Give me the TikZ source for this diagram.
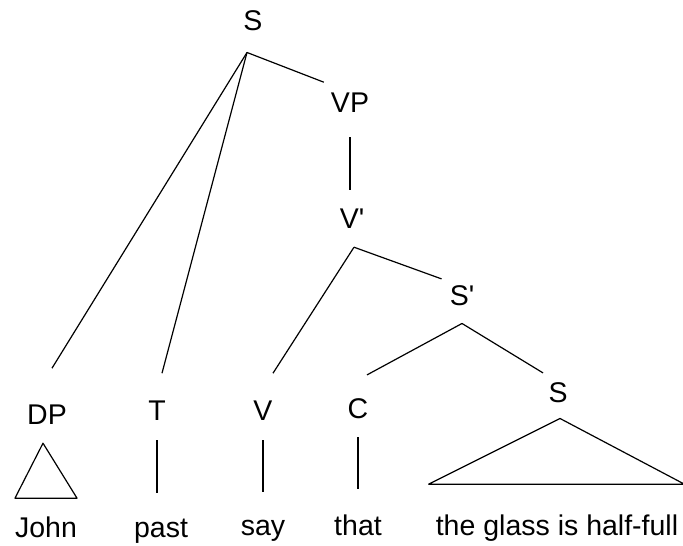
\documentclass[tikz,border=0pt]{standalone}
\usepackage{fontspec}
\newfontfamily\treefont{Liberation Sans}
\begin{document}
\begin{tikzpicture}[
    x=1pt, y=-1pt,
    cat/.style={inner sep=0pt, anchor=base, font=\treefont\fontsize{28.5}{30}\selectfont},
    word/.style={cat},
    branch/.style={line width=1.2pt, draw=black, line join=round}
]
    \useasboundingbox (0,0) rectangle (683,546);

    % categories
    \node[cat] (s) at (253,30) {S};
    \node[cat] (vp) at (350,112) {VP};
    \node[cat] (vbar) at (352,228) {V'};
    \node[cat] (sbar) at (462,305) {S'};
    \node[cat] (dp) at (47,424) {DP};
    \node[cat] (t) at (157,420) {T};
    \node[cat] (v) at (263,420) {V};
    \node[cat] (c) at (358,418) {C};
    \node[cat] (slow) at (558,402) {S};

    % words
    \node[word] (john) at (46,537) {John};
    \node[word] (past) at (161,537) {past};
    \node[word] (say) at (263,535) {say};
    \node[word] (that) at (358,535) {that};
    \node[word] (glass) at (557,535) {the glass is half-full};

    % branching points
    \coordinate (s-fork) at ([xshift=-6pt,yshift=-22pt]s.south);
    \coordinate (vbar-fork) at ([xshift=2pt,yshift=-19pt]vbar.south);
    \coordinate (sbar-fork) at ([yshift=-18pt]sbar.south);

    \draw[branch] (s-fork) -- ([xshift=5pt,yshift=36pt]dp.north);
    \draw[branch] (s-fork) -- ([xshift=5pt,yshift=27pt]t.north);
    \draw[branch] (s-fork) -- ([xshift=-7pt,yshift=10pt]vp.north west);
    \draw[branch] ([yshift=-25pt]vp.south) -- ([yshift=18pt]vp.south |- vbar.north);
    \draw[branch] (vbar-fork) -- ([xshift=10pt,yshift=27pt]v.north);
    \draw[branch] (vbar-fork) -- ([xshift=-8pt,yshift=6pt]sbar.north west);
    \draw[branch] (sbar-fork) -- ([xshift=9pt,yshift=23pt]c.north);
    \draw[branch] (sbar-fork) -- ([xshift=-15pt,yshift=9pt]slow.north);

    % terminals
    \draw[branch] ([xshift=-4pt,yshift=-19pt]dp.south) -- ([xshift=-31pt,yshift=18pt]john.north)
        -- ([xshift=31pt,yshift=18pt]john.north) -- cycle;
    \draw[branch] ([yshift=-20pt]t.south) -- ([yshift=25pt]t.south |- past.north);
    \draw[branch] ([yshift=-20pt]v.south) -- ([yshift=27pt]v.south |- say.north);
    \draw[branch] ([yshift=-19pt]c.south) -- ([yshift=25pt]c.south |- that.north);
    \draw[branch] ([xshift=2pt,yshift=-16pt]slow.south) -- ([xshift=-7pt,yshift=30pt]glass.north west)
        -- ([xshift=6pt,yshift=30pt]glass.north east) -- cycle;
\end{tikzpicture}
\end{document}
